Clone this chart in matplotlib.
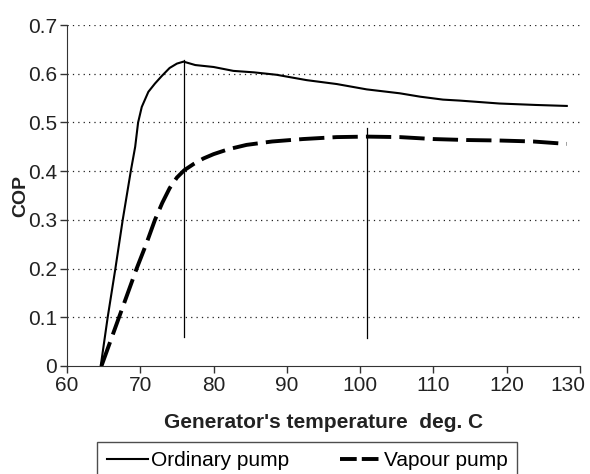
import matplotlib as mpl
import matplotlib.pyplot as plt
from matplotlib.lines import Line2D
from matplotlib.transforms import ScaledTranslation

mpl.use('agg')
plt.rcParams['font.family'] = ['Liberation Sans', 'DejaVu Sans']

# Ordinary pump curve (generator temperature, COP)
ord_t = [64.6, 65.55, 66.6, 67.6, 68.7, 69.3, 69.7, 70.2, 71.1, 72.0, 72.9, 74.0, 75.0, 75.9,
         77.5, 80.0, 82.7, 85.5, 88.6, 92.7, 96.8, 100.9, 105.4, 108.2, 111.3, 113.6, 119.0, 124.0, 128.2]
ord_cop = [0.0, 0.1, 0.2, 0.3, 0.4, 0.45, 0.5, 0.532, 0.563, 0.58, 0.595, 0.612, 0.621, 0.625,
           0.618, 0.614, 0.606, 0.603, 0.598, 0.587, 0.579, 0.568, 0.56, 0.553, 0.547, 0.545, 0.539, 0.536, 0.534]

# Vapour pump curve
vap_t = [64.7, 67.1, 69.5, 70.8, 72.0, 73.0, 74.0, 75.0, 76.0, 77.3, 78.6, 80.0, 82.0, 84.5, 88.0,
         92.2, 96.8, 100.9, 105.4, 110.0, 114.5, 119.0, 123.6, 128.2]
vap_cop = [0.0, 0.1, 0.2, 0.25, 0.3, 0.335, 0.365, 0.387, 0.402, 0.415, 0.426, 0.435, 0.445, 0.454,
           0.461, 0.466, 0.47, 0.471, 0.47, 0.466, 0.464, 0.463, 0.461, 0.456]

# optimum markers (x, y bottom, y top)
mark_x = [75.96, 100.95]
mark_lo = [0.06, 0.057]
mark_hi = [0.628, 0.488]

fig = plt.figure(figsize=(5.9, 4.74), dpi=100)
ax = fig.add_axes([0.1136, 0.228, 0.8694, 0.719])

for y in [0.1, 0.2, 0.3, 0.4, 0.5, 0.6, 0.7]:
    ax.axhline(y, color='#222222', lw=0.9, ls=(0, (1, 3.3)), zorder=1)

ax.plot(ord_t, ord_cop, color='black', lw=1.5, zorder=3)
ax.plot(vap_t, vap_cop, color='black', lw=2.8, ls=(0, (6.5, 2.1)), zorder=3)

for x, lo, hi in zip(mark_x, mark_lo, mark_hi):
    ax.plot([x, x], [lo, hi], color='black', lw=0.9, zorder=2)

ax.set_xlim(60, 130)
ax.set_ylim(0, 0.7)
ax.set_xticks(range(60, 131, 10))
ax.set_yticks([0, 0.1, 0.2, 0.3, 0.4, 0.5, 0.6, 0.7])
ax.set_yticklabels(['0', '0.1', '0.2', '0.3', '0.4', '0.5', '0.6', '0.7'])
ax.spines['top'].set_visible(False)
ax.spines['right'].set_visible(False)
for s in ['left', 'bottom']:
    ax.spines[s].set_color('#333333')
ax.tick_params(labelsize=15, direction='out', length=5, width=1, color='#333333',
               labelcolor='#222222', pad=2)
ax.set_xlabel("Generator's temperature  deg. C", fontsize=15, fontweight='bold',
              labelpad=13, color='#222222')
ax.set_ylabel('COP', fontsize=14, fontweight='bold', labelpad=-1, color='#222222')

# last x label sits left of its tick, as in the original
fig.canvas.draw()
last = ax.get_xticklabels()[-1]
last.set_horizontalalignment('right')
last.set_transform(last.get_transform() + ScaledTranslation(4 / 72, 0, fig.dpi_scale_trans))

handles = [Line2D([], [], color='black', lw=1.5),
           Line2D([], [], color='black', lw=2.8, ls=(0, (4.3, 1.3)))]
leg = fig.legend(handles, ['Ordinary pump', 'Vapour pump'], loc='upper center',
                 bbox_to_anchor=(0.521, 0.0675), ncol=2, frameon=True, fancybox=False,
                 edgecolor='#222222', fontsize=15, handlelength=2.0, handletextpad=0.15,
                 columnspacing=2.4, borderpad=0.45, borderaxespad=0)
leg.get_frame().set_linewidth(1.0)

fig.savefig('out.png')
